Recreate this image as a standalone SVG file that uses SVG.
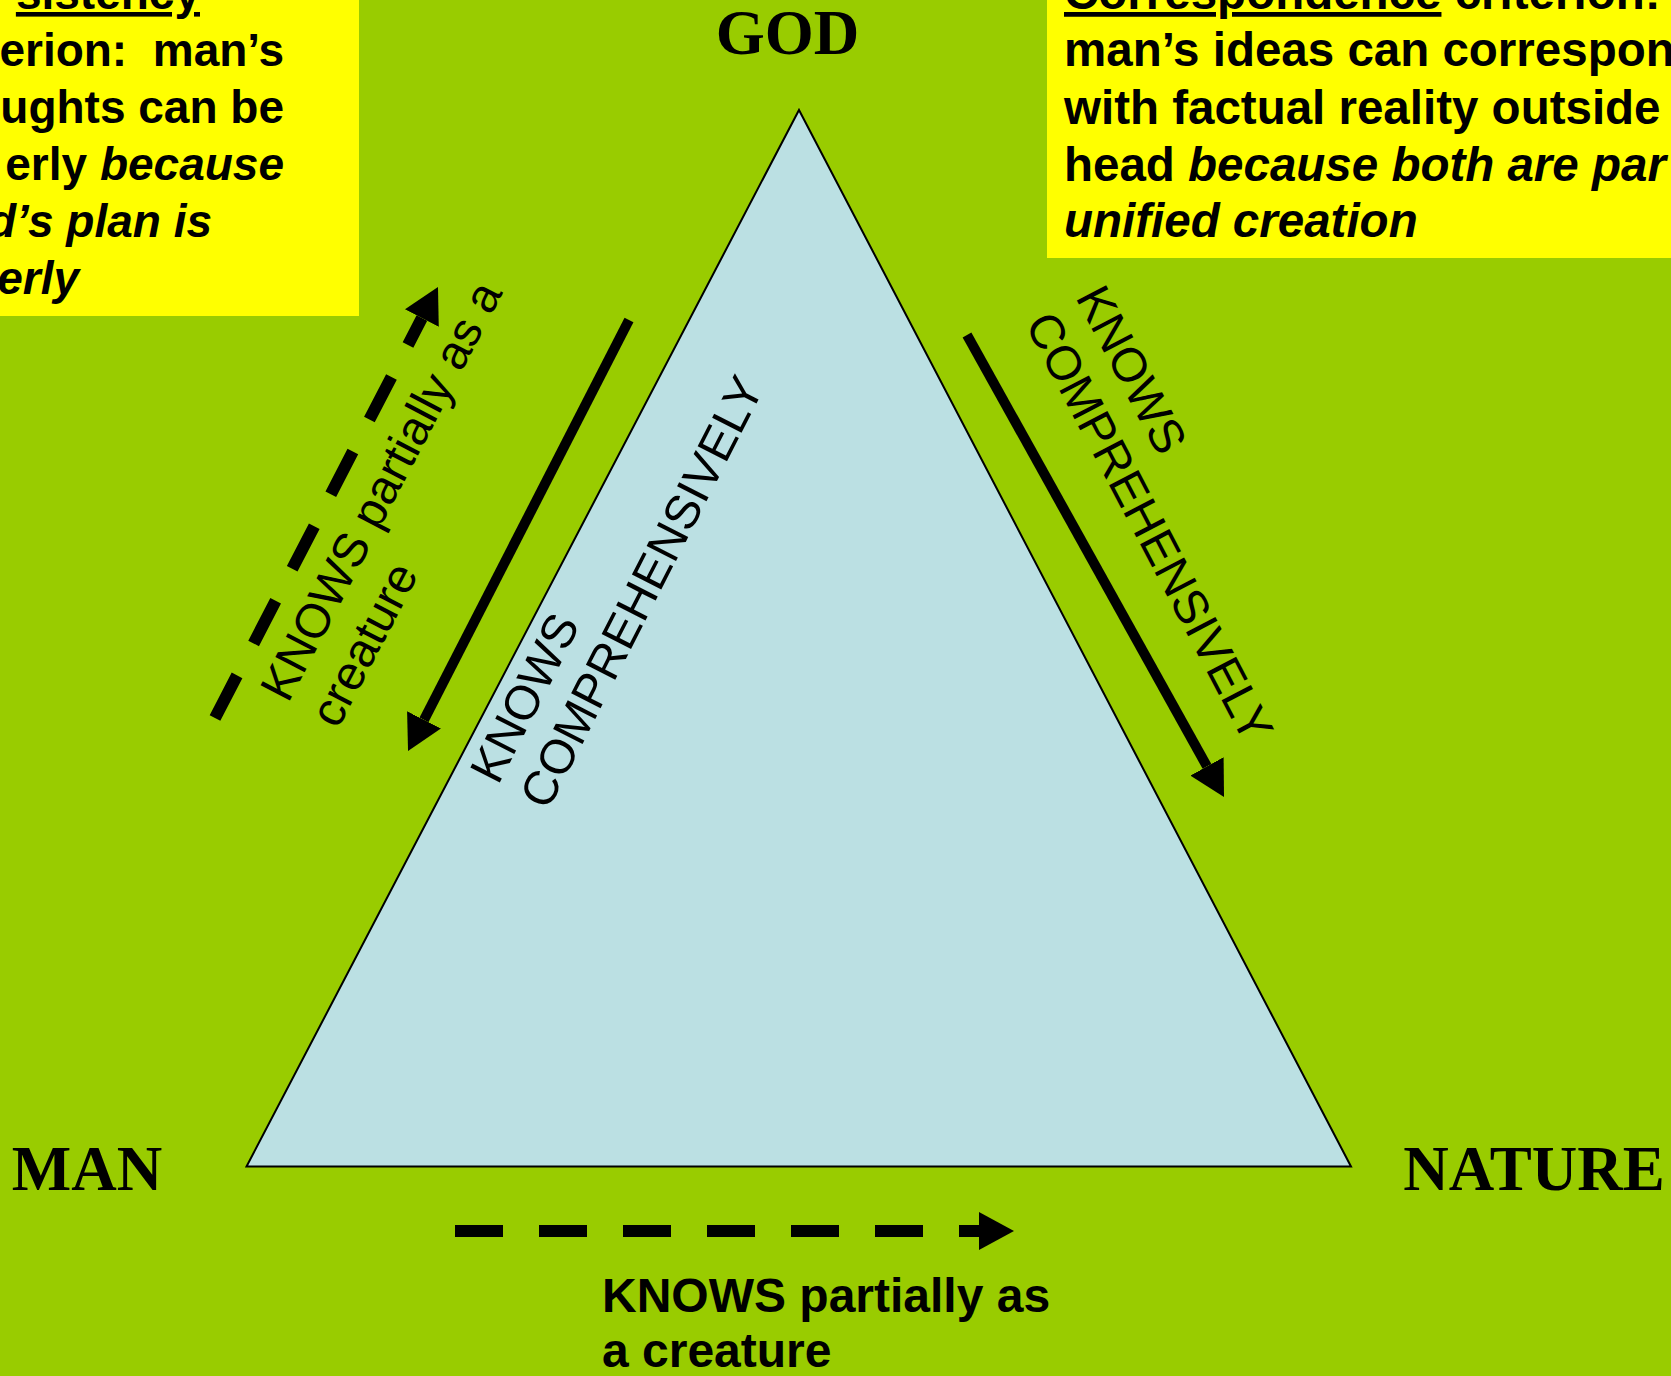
<svg xmlns="http://www.w3.org/2000/svg" width="1671" height="1376" viewBox="0 0 1671 1376">
<style>
.note{font-family:"Liberation Sans",Arial,sans-serif;font-weight:bold;font-size:46px;fill:#000}
.noteR{font-family:"Liberation Sans",Arial,sans-serif;font-weight:bold;font-size:47.5px;fill:#000}
.it{font-style:italic}
.ul{text-decoration:underline}
.node{font-family:"Liberation Serif","Times New Roman",serif;font-weight:bold;font-size:63px;fill:#000;text-anchor:middle}
.rot{font-family:"Liberation Sans",Arial,sans-serif;font-size:48px;fill:#000}
.bot{font-family:"Liberation Sans",Arial,sans-serif;font-weight:bold;font-size:48px;fill:#000}
.solid{stroke:#000;stroke-width:10;fill:none}
.dash{stroke:#000;stroke-width:12;fill:none;stroke-dasharray:48 36}
</style>
<defs>
<marker id="head" markerUnits="userSpaceOnUse" viewBox="0 0 36 38" markerWidth="36" markerHeight="38" refX="0" refY="19" orient="auto">
<path d="M0,0 L35,19 L0,38 Z" fill="#000"/>
</marker>
</defs>
<rect x="0" y="0" width="1671" height="1376" fill="#99CC00"/>

<g id="box-consistency">
<rect x="-10" y="-10" width="369" height="326" fill="#FFFF00"/>
<text class="note ul" text-anchor="end" x="200" y="9">sistency</text>
<text class="note" text-anchor="end" xml:space="preserve" x="284" y="66">erion:  man’s</text>
<text class="note" text-anchor="end" x="284" y="123">ughts can be</text>
<text class="note" text-anchor="end" x="284" y="180">erly <tspan class="it">because</tspan></text>
<text class="note it" text-anchor="end" x="212" y="237">d’s plan is</text>
<text class="note it" text-anchor="end" x="79" y="294">erly</text>
</g>

<g id="box-correspondence">
<rect x="1047" y="-10" width="640" height="268" fill="#FFFF00"/>
<text class="noteR" x="1064" y="9"><tspan class="ul">Correspondence</tspan> criterion:</text>
<text class="noteR" x="1064" y="66">man’s ideas can correspon</text>
<text class="noteR" x="1064" y="124">with factual reality outside</text>
<text class="noteR" x="1064" y="181">head <tspan class="it">because both are par</tspan></text>
<text class="noteR it" x="1064" y="237">unified creation</text>
</g>

<g id="triangle">
<polygon points="799,110 1351,1166.5 246.5,1166.5" fill="#BBE0E3" stroke="#000" stroke-width="2" stroke-linejoin="miter"/>
</g>

<g id="god"><text class="node" x="787.5" y="54">GOD</text></g>
<g id="man"><text class="node" x="87" y="1190">MAN</text></g>
<g id="nature"><text class="node" x="1534" y="1190">NATURE</text></g>

<g id="connectors">
<line id="god-man" class="solid" x1="629" y1="320" x2="424" y2="719.9" marker-end="url(#head)"/>
<line id="god-nature" class="solid" x1="967" y1="335" x2="1207" y2="766.4" marker-end="url(#head)"/>
<line id="man-god" class="dash" x1="215" y1="718" x2="421.9" y2="318.1" marker-end="url(#head)"/>
<line id="man-nature" class="dash" x1="455" y1="1231" x2="979" y2="1231" marker-end="url(#head)"/>
</g>

<g id="connector-labels">
<g id="label-man-god" transform="translate(288,704) rotate(-62.4)">
<text class="rot" x="0" y="0">KNOWS partially as a</text>
<text class="rot" x="0" y="56">creature</text>
</g>
<g id="label-god-man" transform="translate(498,786) rotate(-62.9)">
<text class="rot" x="0" y="0">KNOWS</text>
<text class="rot" x="0" y="56">COMPREHENSIVELY</text>
</g>
<g id="label-god-nature" transform="translate(1075,297) rotate(62.4)">
<text class="rot" x="0" y="0">KNOWS</text>
<text class="rot" x="0" y="57">COMPREHENSIVELY</text>
</g>
<g id="label-man-nature">
<text class="bot" x="602" y="1312">KNOWS partially as</text>
<text class="bot" x="602" y="1367">a creature</text>
</g>
</g>
</svg>
